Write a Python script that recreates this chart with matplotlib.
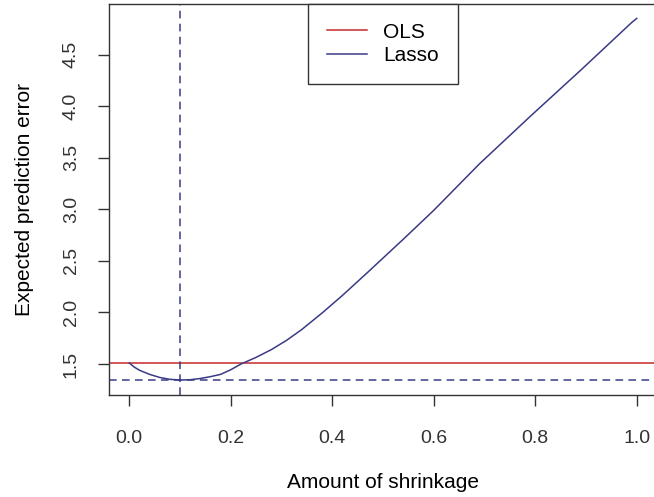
import matplotlib
matplotlib.use("Agg")
import matplotlib.pyplot as plt
import numpy as np

# values
shrinkage = [0.0, 0.01, 0.02, 0.03, 0.04, 0.06, 0.08, 0.1, 0.12, 0.14,
             0.16, 0.18, 0.2, 0.22, 0.25, 0.28, 0.31, 0.34, 0.38, 0.42,
             0.47, 0.54, 0.6, 0.69, 0.79, 0.89, 0.99, 1.0]
lasso_err = [1.51, 1.47, 1.44, 1.42, 1.40, 1.37, 1.352, 1.345, 1.348, 1.36,
             1.378, 1.40, 1.445, 1.50, 1.565, 1.64, 1.73, 1.835, 1.995, 2.165,
             2.39, 2.71, 2.99, 3.44, 3.90, 4.35, 4.81, 4.85]
ols_err = 1.51
best_shrink = 0.1
best_err = 1.345

xticks = [0.0, 0.2, 0.4, 0.6, 0.8, 1.0]
yticks = [1.5, 2.0, 2.5, 3.0, 3.5, 4.0, 4.5]

plt.rcParams['font.family'] = ['Liberation Sans', 'DejaVu Sans']
red = '#c82a2a'
navy = '#3a3a86'

W, H = 654, 497
fig = plt.figure(figsize=(W / 100, H / 100), dpi=100)
# plot box runs a little past the right edge, like the reference
ax = fig.add_axes([109 / W, (H - 395) / H, (657 - 109) / W, (395 - 4) / H])

ax.axhline(ols_err, color=red, lw=1.1, label='OLS')
ax.plot(shrinkage, lasso_err, color=navy, lw=1.1, label='Lasso')
ax.axvline(best_shrink, color=navy, lw=1.1, dashes=(5, 3.5))
ax.axhline(best_err, color=navy, lw=1.1, dashes=(5, 3.5))

ax.set_xlim(-0.04, 1.04)
ax.set_ylim(1.2, 4.99)
ax.set_xticks(xticks)
ax.set_xticklabels(['%.1f' % v for v in xticks])
ax.set_yticks(yticks)
ax.set_yticklabels(['%.1f' % v for v in yticks], rotation=90, va='center')
ax.tick_params(direction='out', length=8, width=1.0, labelsize=14,
               colors='#333333', pad=13)
ax.tick_params(axis='x', pad=17)
for s in ax.spines.values():
    s.set_linewidth(1.0)
    s.set_color('#333333')
ax.spines['right'].set_visible(False)

ax.set_xlabel('Amount of shrinkage', fontsize=15, labelpad=19)
ax.set_ylabel('Expected prediction error', fontsize=15, labelpad=21)

leg = ax.legend(loc='upper center', bbox_to_anchor=(0.5, 1.0), fontsize=15,
                frameon=True, fancybox=False, framealpha=1, edgecolor='#333333',
                borderaxespad=0, borderpad=0.9, labelspacing=0.2,
                handlelength=1.9, handletextpad=0.8)
leg.get_frame().set_linewidth(1.0)

fig.savefig('out.png', dpi=100)
